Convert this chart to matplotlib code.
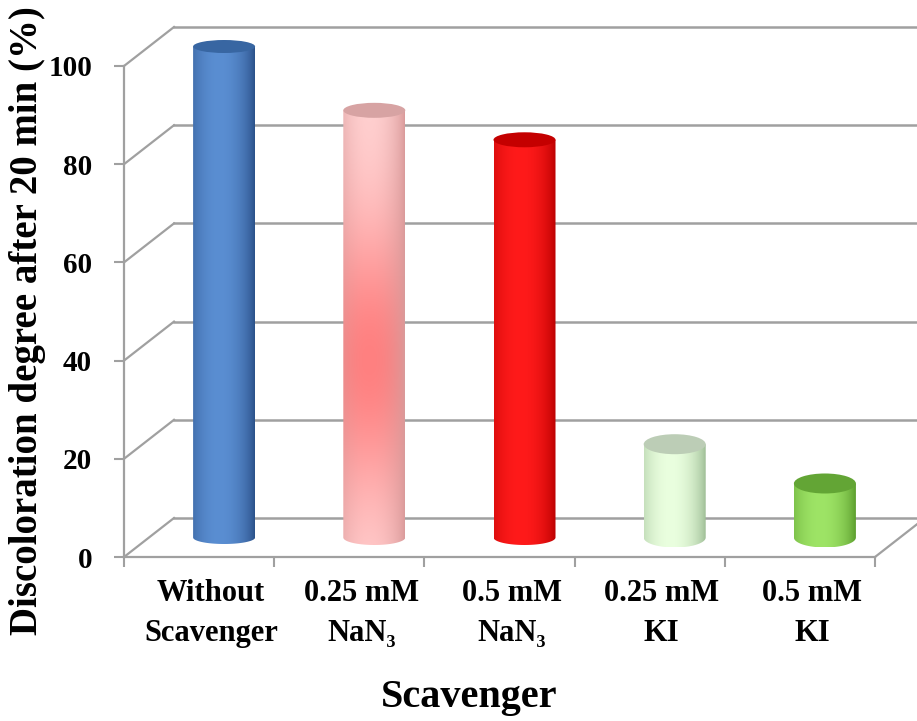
import numpy as np
import matplotlib
matplotlib.use('Agg')
import matplotlib.pyplot as plt
from matplotlib.patches import Ellipse, PathPatch
from matplotlib.path import Path
from matplotlib.colors import to_rgb

# data
categories = ['Without\nScavenger', '0.25 mM\nNaN\u2083', '0.5 mM\nNaN\u2083',
              '0.25 mM\nKI', '0.5 mM\nKI']
discoloration = [100, 87, 81, 19, 11]
y_ticks = [0, 20, 40, 60, 80, 100]

# cylinder looks (edge shade, highlight, optional mid-height tint, cap)
body_edge = ['#2a5088', '#d99a9a', '#b80000', '#9cbc94', '#5a9c2c']
body_light = ['#5a8ed2', '#ffd2d2', '#ff1a1a', '#eaffdf', '#9ee466']
body_mid = [None, '#ff8080', None, None, None]
cap_color = ['#3866a2', '#d7a3a3', '#c40000', '#bccdb6', '#63a535']
cap_px = [13, 15, 15, 20, 20]

plt.rcParams['font.family'] = ['Liberation Serif', 'DejaVu Serif']
plt.rcParams['font.weight'] = 'bold'

YMAX = 112  # room above 100 for the box depth and the caps

px_x = 751/5.0     # pixels per category
px_y = 491/100.0   # pixels per percent
DX = 50/px_x       # depth of the 3d box, data units
DY = 39/px_y
grid = '#a0a0a0'

fig = plt.figure(figsize=(9.17, 7.21), dpi=100)
ax = fig.add_axes([124/917, 164/721, 751/917, YMAX*px_y/721])
ax.set_xlim(-0.5, 4.5)
ax.set_ylim(0, YMAX)

# back wall gridlines and the side wall diagonals
for v in y_ticks:
    ax.plot([-0.5 + DX, 4.5 + DX], [v + DY, v + DY], color=grid, lw=1.8,
            clip_on=False, zorder=1)
    ax.plot([-0.5, -0.5 + DX], [v, v + DY], color=grid, lw=1.6,
            clip_on=False, zorder=1)
ax.plot([4.5, 4.5 + DX], [0, DY], color=grid, lw=1.6, clip_on=False, zorder=1)

for s in ['top', 'right']:
    ax.spines[s].set_visible(False)
for s in ['left', 'bottom']:
    ax.spines[s].set_color(grid)
    ax.spines[s].set_linewidth(1.6)
ax.spines['left'].set_bounds(0, 100)

ax.set_yticks(y_ticks)
ax.tick_params(axis='y', direction='out', length=7, width=1.5, color=grid,
               labelsize=21, pad=16)
ax.set_xticks(np.arange(-0.5, 5.0, 1.0))
ax.set_xticklabels([])
ax.tick_params(axis='x', which='major', direction='out', length=7, width=1.5,
               color=grid)
ax.set_xticks(np.arange(5) + 0.08, categories, minor=True)
ax.tick_params(axis='x', which='minor', length=0, labelsize=22, pad=16)
for lbl in ax.get_xticklabels(minor=True):
    lbl.set_linespacing(1.5)

# cylinders
w = 62/px_x
u = np.linspace(-1, 1, 120)
f = np.clip(1 - ((u + 0.15)/1.15)**2, 0, 1)**0.8
for i, v in enumerate(discoloration):
    c = i + DX/2
    base = DY/2
    top = v + DY/2
    eh = cap_px[i]/px_y

    t = np.linspace(np.pi, 2*np.pi, 60)
    xs = list(c + w/2*np.cos(t)) + [c + w/2, c - w/2, c - w/2]
    ys = list(base + eh/2*np.sin(t)) + [top, top, base]
    clip = PathPatch(Path(np.column_stack([xs, ys])), transform=ax.transData,
                     facecolor='none', edgecolor='none')
    ax.add_patch(clip)

    yy = np.linspace(base - eh/2, top, 200)
    edge = np.array(to_rgb(body_edge[i]))
    light = np.array(to_rgb(body_light[i]))
    lights = np.tile(light, (len(yy), 1))
    if body_mid[i] is not None:
        g = np.exp(-((yy - 40)/28.0)**2)[:, None]
        mid = np.array(to_rgb(body_mid[i]))
        lights = light*(1 - g) + mid*g
    img = edge[None, None, :] + (lights[:, None, :] - edge[None, None, :])*f[None, :, None]
    im = ax.imshow(np.clip(img, 0, 1), extent=[c - w/2, c + w/2, yy[0], yy[-1]],
                   origin='lower', aspect='auto', interpolation='bilinear', zorder=3)
    im.set_clip_path(clip)

    ax.add_patch(Ellipse((c, top), w, eh, facecolor=cap_color[i],
                         edgecolor='none', zorder=4, clip_on=False))

ax.set_xlim(-0.5, 4.5)
ax.set_ylim(0, YMAX)

fig.text(28/917, 1 - 321/721, 'Discoloration degree after 20 min (%)',
         rotation=90, ha='center', va='center', fontsize=28)
fig.text(469/917, 1 - 697/721, 'Scavenger', ha='center', va='center',
         fontsize=29)

fig.savefig('out.png', dpi=100)
